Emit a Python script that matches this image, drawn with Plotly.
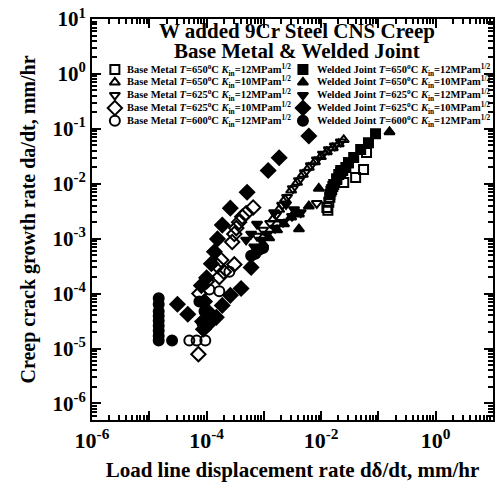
import plotly.graph_objects as go

# ---------------- data ----------------
# Base Metal T=650C K=12 (open squares)
bm650_12_x = [1.26e-2, 1.36e-2, 1.42e-2, 1.48e-2, 1.60e-2, 1.87e-2, 2.48e-2, 4.0e-2, 5.5e-2, 6.2e-2, 3.0e-2, 2.2e-2, 1.31e-2]
bm650_12_y = [3.7e-3, 4.6e-3, 5.7e-3, 7.3e-3, 8.9e-3, 1.24e-2, 1.05e-2, 1.30e-2, 1.81e-2, 3.7e-2, 2.42e-2, 1.74e-2, 3.3e-3]
# Base Metal T=650C K=10 (open up triangles)
bm650_10_x = [2.48e-2, 2.03e-2, 1.60e-2, 1.26e-2, 9.9e-3, 7.8e-3, 6.1e-3, 4.8e-3, 3.8e-3, 3.0e-3, 2.34e-3, 1.85e-3, 1.45e-3]
bm650_10_y = [6.3e-2, 5.3e-2, 4.5e-2, 3.8e-2, 3.1e-2, 2.5e-2, 1.97e-2, 1.47e-2, 1.05e-2, 7.6e-3, 5.2e-3, 3.4e-3, 2.27e-3]
# Base Metal T=625C K=12 (open down triangles)
bm625_12_x = [2.2e-2, 1.73e-2, 1.36e-2, 1.07e-2, 8.4e-3, 6.6e-3, 5.2e-3, 4.1e-3, 3.2e-3, 2.54e-3, 2.08e-3, 1.63e-3, 1.29e-3, 9.7e-4, 7.6e-4, 8.4e-3]
bm625_12_y = [5.8e-2, 4.9e-2, 4.2e-2, 3.5e-2, 2.74e-2, 2.14e-2, 1.60e-2, 1.15e-2, 8.2e-3, 5.7e-3, 4.1e-3, 2.68e-3, 1.92e-3, 1.44e-3, 1.12e-3, 4.4e-3]
# Base Metal T=625C K=10 (open diamonds)
bm625_10_x = [6.5e-4, 4.9e-4, 4.2e-4, 3.7e-4, 3.3e-4, 3.05e-4, 2.8e-4, 1.8e-4, 1.55e-4, 3.05e-4, 2.0e-4, 1.67e-4, 1.0e-4, 7.5e-5, 7.2e-5]
bm625_10_y = [3.7e-3, 2.9e-3, 2.5e-3, 2.0e-3, 1.56e-3, 1.22e-3, 8.7e-4, 4.1e-4, 3.2e-4, 3.4e-4, 2.5e-4, 2.0e-4, 1.66e-4, 1.0e-4, 7.9e-6]
# Base Metal T=600C K=12 (open circles)
bm600_12_x = [5.0e-5, 6.7e-5, 9.5e-5, 1.12e-4, 1.67e-4, 2.5e-4, 9.1e-5]
bm600_12_y = [1.4e-5, 1.4e-5, 1.4e-5, 1.19e-4, 1.1e-4, 2.5e-4, 7.2e-5]

# Welded Joint T=650C K=12 (filled squares)
wj650_12_x = [8.9e-2, 6.7e-2, 4.9e-2, 3.7e-2, 3.0e-2, 2.7e-2, 2.2e-2, 1.87e-2, 1.66e-2, 1.53e-2, 1.42e-2, 2.03e-2, 2.38e-2]
wj650_12_y = [8.1e-2, 5.6e-2, 4.2e-2, 3.0e-2, 2.42e-2, 1.97e-2, 1.60e-2, 1.19e-2, 9.7e-3, 7.9e-3, 6.4e-3, 1.47e-2, 1.74e-2]
# Welded Joint T=650C K=10 (filled up triangles)
wj650_10_x = [0.156, 9.1e-3, 6.1e-3, 4.1e-3, 3.0e-3, 2.25e-3, 1.70e-3, 1.24e-3, 9.7e-4, 7.6e-4, 4.1e-3]
wj650_10_y = [8.8e-2, 8.2e-3, 3.9e-3, 1.50e-3, 2.47e-3, 1.85e-3, 1.44e-3, 1.03e-3, 8.0e-4, 6.3e-4, 2.79e-3]
# Welded Joint T=625C K=12 (filled down triangles)
wj625_12_x = [7.6e-4, 6.0e-4, 4.9e-4, 1.51e-3, 3.36e-3, 2.44e-3, 9.0e-4, 1.14e-3, 1.57e-3, 2.16e-3, 3.1e-3, 4.4e-3, 6.8e-4]
wj625_12_y = [1.85e-3, 1.22e-3, 9.5e-4, 3.0e-3, 3.4e-3, 4.2e-3, 9.5e-4, 1.22e-3, 1.56e-3, 2.0e-3, 2.57e-3, 3.0e-3, 7.1e-4]
# Welded Joint T=625C K=10 (filled diamonds)
wj625_10_x = [6.1e-3, 1.85e-3, 1.19e-3, 5.1e-4, 2.6e-4, 1.88e-4, 1.55e-4, 1.37e-4, 1.21e-4, 6.0e-4, 1.0e-4, 8.1e-5,
              4.0e-4, 2.6e-4, 1.88e-4, 1.48e-4, 3.1e-5, 4.7e-5, 9.2e-5, 1.04e-4, 8.5e-5, 8.8e-5, 1.12e-4]
wj625_10_y = [7.4e-2, 2.98e-2, 1.74e-2, 7.0e-3, 3.6e-3, 1.77e-3, 9.9e-4, 5.8e-4, 3.5e-4, 3.0e-4, 1.95e-4, 1.4e-4,
              1.24e-4, 9.3e-5, 6.1e-5, 3.7e-5, 6.4e-5, 4.2e-5, 7.2e-5, 4.8e-5, 3.1e-5, 2.25e-5, 2.9e-5]
# Welded Joint T=600C K=12 (filled circles)
wj600_12_x = [1.46e-5, 1.46e-5, 1.46e-5, 1.46e-5, 1.46e-5, 1.46e-5, 1.46e-5, 1.46e-5, 1.46e-5, 2.5e-5,
              7.5e-5, 9.2e-5, 1.12e-4, 8.5e-5, 7.1e-4, 8.3e-4, 9.7e-4, 6.0e-4]
wj600_12_y = [8.2e-5, 6.4e-5, 4.8e-5, 3.9e-5, 3.2e-5, 2.6e-5, 2.1e-5, 1.7e-5, 1.4e-5, 1.4e-5,
              7.2e-5, 4.8e-5, 3.4e-5, 2.9e-5, 5.3e-4, 6.3e-4, 6.8e-4, 4.9e-4]

series_labels = [
    "Base Metal <i>T</i>=650<sup>o</sup>C <i>K</i><sub>in</sub>=12MPam<sup>1/2</sup>",
    "Base Metal <i>T</i>=650<sup>o</sup>C <i>K</i><sub>in</sub>=10MPam<sup>1/2</sup>",
    "Base Metal <i>T</i>=625<sup>o</sup>C <i>K</i><sub>in</sub>=12MPam<sup>1/2</sup>",
    "Base Metal <i>T</i>=625<sup>o</sup>C <i>K</i><sub>in</sub>=10MPam<sup>1/2</sup>",
    "Base Metal <i>T</i>=600<sup>o</sup>C <i>K</i><sub>in</sub>=12MPam<sup>1/2</sup>",
    "Welded Joint <i>T</i>=650<sup>o</sup>C <i>K</i><sub>in</sub>=12MPam<sup>1/2</sup>",
    "Welded Joint <i>T</i>=650<sup>o</sup>C <i>K</i><sub>in</sub>=10MPam<sup>1/2</sup>",
    "Welded Joint <i>T</i>=625<sup>o</sup>C <i>K</i><sub>in</sub>=12MPam<sup>1/2</sup>",
    "Welded Joint <i>T</i>=625<sup>o</sup>C <i>K</i><sub>in</sub>=10MPam<sup>1/2</sup>",
    "Welded Joint <i>T</i>=600<sup>o</sup>C <i>K</i><sub>in</sub>=12MPam<sup>1/2</sup>",
]
series_symbols = ["square-open", "triangle-up-open", "triangle-down-open", "diamond-open", "circle-open",
                  "square", "triangle-up", "triangle-down", "diamond", "circle"]
series_x = [bm650_12_x, bm650_10_x, bm625_12_x, bm625_10_x, bm600_12_x,
            wj650_12_x, wj650_10_x, wj625_12_x, wj625_10_x, wj600_12_x]
series_y = [bm650_12_y, bm650_10_y, bm625_12_y, bm625_10_y, bm600_12_y,
            wj650_12_y, wj650_10_y, wj625_12_y, wj625_10_y, wj600_12_y]

x_decades = [-6, -5, -4, -3, -2, -1, 0, 1]
y_decades = [-6, -5, -4, -3, -2, -1, 0, 1]

FONT = "Liberation Serif"

fig = go.Figure()

def msize(sym):
    if sym.startswith("diamond"):
        return 11
    if sym.startswith("circle"):
        return 10
    return 9

for xs, ys, sym, lab in zip(series_x, series_y, series_symbols, series_labels):
    fig.add_trace(go.Scatter(
        x=xs, y=ys, mode="markers", name=lab, showlegend=False,
        marker=dict(symbol=sym, size=msize(sym), color="black",
                    line=dict(color="black", width=2)),
        cliponaxis=True,
    ))

# hand-made two-column legend (drawn on a hidden 0..1 overlay axis)
leg_rows = [0.874, 0.842, 0.810, 0.778, 0.746]
leg_col_marker = [0.057, 0.526]
leg_col_text = [0.083, 0.555]
for i, (sym, lab) in enumerate(zip(series_symbols, series_labels)):
    col = i // 5
    row = i % 5
    fig.add_trace(go.Scatter(
        x=[leg_col_marker[col]], y=[leg_rows[row]], mode="markers", showlegend=False,
        xaxis="x2", yaxis="y2", hoverinfo="skip",
        marker=dict(symbol=sym, size=msize(sym), color="black", line=dict(color="black", width=2)),
    ))
    fig.add_annotation(x=leg_col_text[col], y=leg_rows[row], xref="paper", yref="paper",
                       xanchor="left", yanchor="middle", showarrow=False, text=lab,
                       font=dict(family=FONT, size=10.5, color="black", weight="bold"))

fig.add_annotation(x=0.512, y=0.971, xref="paper", yref="paper", xanchor="center", yanchor="middle",
                   showarrow=False, text="W added 9Cr Steel CNS Creep",
                   font=dict(family=FONT, size=21, color="black", weight="bold"))
fig.add_annotation(x=0.512, y=0.921, xref="paper", yref="paper", xanchor="center", yanchor="middle",
                   showarrow=False, text="Base Metal &amp; Welded Joint",
                   font=dict(family=FONT, size=21, color="black", weight="bold"))

def minor_vals(lo_exp, hi_exp):
    vals = []
    for e in range(lo_exp, hi_exp):
        for m in range(2, 10):
            vals.append(m * 10.0 ** e)
    return vals

x_minor = minor_vals(-6, 1)
y_minor = [m * 1e-7 for m in range(5, 10)] + minor_vals(-6, 1)

axis_common = dict(
    type="log", showline=True, linecolor="black", linewidth=2, mirror="ticks",
    ticks="inside", ticklen=9, tickwidth=2, tickcolor="black", showgrid=False, zeroline=False,
)

fig.update_layout(
    width=500, height=488,
    margin=dict(l=92, r=5, t=15, b=68),
    paper_bgcolor="white", plot_bgcolor="white",
    showlegend=False,
    xaxis=dict(
        **axis_common,
        range=[-6, 1],
        tickmode="array",
        tickvals=[10.0 ** d for d in x_decades],
        ticktext=[("10<sup>%d</sup>" % d) if d % 2 == 0 and d <= 0 else "" for d in x_decades],
        tickfont=dict(family=FONT, size=22, color="black", weight="bold"),
        minor=dict(tickmode="array", tickvals=x_minor, ticks="inside", ticklen=5, tickwidth=1.5,
                   tickcolor="black", showgrid=False),
        title=dict(text="Load line displacement rate d\u03b4/dt, mm/hr",
                   font=dict(family=FONT, size=21, color="black", weight="bold"), standoff=10),
    ),
    yaxis=dict(
        **axis_common,
        range=[-6.30103, 1],
        tickmode="array",
        tickvals=[10.0 ** d for d in y_decades],
        ticktext=["10<sup>%d</sup>" % d for d in y_decades],
        tickfont=dict(family=FONT, size=21, color="black", weight="bold"),
        ticklabeloverflow="allow",
        minor=dict(tickmode="array", tickvals=y_minor, ticks="inside", ticklen=5, tickwidth=1.5,
                   tickcolor="black", showgrid=False),
        title=dict(text="Creep crack growth rate da/dt, mm/hr",
                   font=dict(family=FONT, size=20, color="black", weight="bold"), standoff=12),
    ),
    xaxis2=dict(overlaying="x", range=[0, 1], visible=False, fixedrange=True),
    yaxis2=dict(overlaying="y", range=[0, 1], visible=False, fixedrange=True),
)

fig.write_html("out.html", config={"displayModeBar": False})
